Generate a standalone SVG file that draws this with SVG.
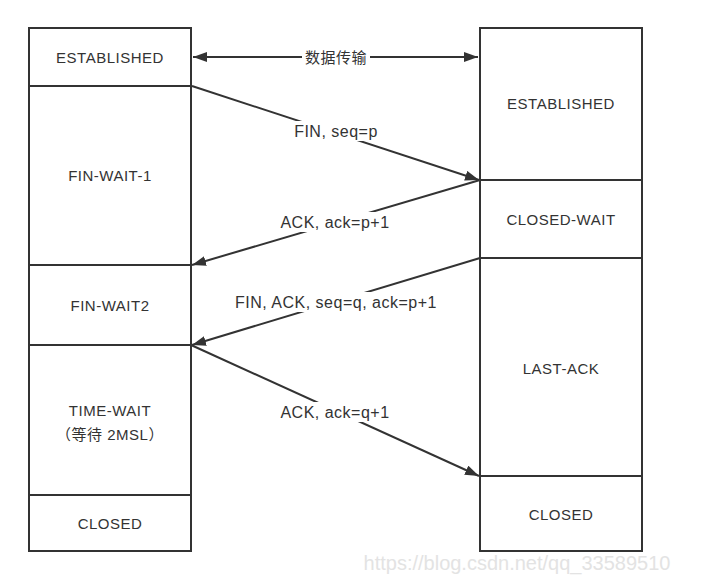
<svg xmlns="http://www.w3.org/2000/svg" width="708" height="582" viewBox="0 0 708 582">
<defs>
<style>
.box{fill:#fff;stroke:#333;stroke-width:2}
.t{font-family:"Liberation Sans","Noto Sans CJK SC",sans-serif;font-size:15px;fill:#333;text-anchor:middle;dominant-baseline:central;letter-spacing:0.5px}
.lb{font-size:16px}
.ln{stroke:#333;stroke-width:2;fill:none}
.bg{fill:#fff}
.wm{font-family:"Liberation Sans",sans-serif;font-size:20px;fill:#e3e3e3;text-anchor:middle;dominant-baseline:central}
</style>
<marker id="ah" viewBox="0 0 14 10" refX="14" refY="5" markerWidth="14" markerHeight="10" markerUnits="userSpaceOnUse" orient="auto-start-reverse">
<path d="M0,0 L14,5 L0,10 Z" fill="#333"/>
</marker>
</defs>
<rect width="708" height="582" fill="#fff"/>
<g id="client">
<g id="c-established"><rect class="box" x="29" y="28" width="162" height="58"/><text class="t" x="110" y="57">ESTABLISHED</text></g>
<g id="c-finwait1"><rect class="box" x="29" y="86" width="162" height="179"/><text class="t" x="110" y="175">FIN-WAIT-1</text></g>
<g id="c-finwait2"><rect class="box" x="29" y="265" width="162" height="80"/><text class="t" x="110" y="305">FIN-WAIT2</text></g>
<g id="c-timewait"><rect class="box" x="29" y="345" width="162" height="150"/><text class="t" x="110" y="410">TIME-WAIT</text><text class="t" x="110" y="434">（等待 2MSL）</text></g>
<g id="c-closed"><rect class="box" x="29" y="495" width="162" height="56"/><text class="t" x="110" y="523">CLOSED</text></g>
</g>
<g id="server">
<g id="s-established"><rect class="box" x="480" y="28" width="162" height="152"/><text class="t" x="561" y="103">ESTABLISHED</text></g>
<g id="s-closedwait"><rect class="box" x="480" y="180" width="162" height="78"/><text class="t" x="561" y="219">CLOSED-WAIT</text></g>
<g id="s-lastack"><rect class="box" x="480" y="258" width="162" height="218"/><text class="t" x="561" y="368">LAST-ACK</text></g>
<g id="s-closed"><rect class="box" x="480" y="476" width="162" height="75"/><text class="t" x="561" y="514">CLOSED</text></g>
</g>
<g id="connectors">
<line class="ln" x1="193" y1="57" x2="478" y2="57" marker-start="url(#ah)" marker-end="url(#ah)"/>
<rect class="bg" x="302" y="48" width="68" height="18"/>
<text class="t" x="336" y="57">数据传输</text>
<line class="ln" x1="192" y1="86" x2="479" y2="180" marker-end="url(#ah)"/>
<rect class="bg" x="290" y="121" width="92" height="20"/>
<text class="t lb" x="336" y="131">FIN, seq=p</text>
<line class="ln" x1="480" y1="180" x2="192" y2="265" marker-end="url(#ah)"/>
<rect class="bg" x="277" y="212" width="116" height="20"/>
<text class="t lb" x="335" y="222">ACK, ack=p+1</text>
<line class="ln" x1="480" y1="258" x2="192" y2="345" marker-end="url(#ah)"/>
<rect class="bg" x="231" y="292" width="210" height="20"/>
<text class="t lb" x="336" y="302">FIN, ACK, seq=q, ack=p+1</text>
<line class="ln" x1="191" y1="345" x2="479" y2="476" marker-end="url(#ah)"/>
<rect class="bg" x="277" y="402" width="116" height="20"/>
<text class="t lb" x="335" y="412">ACK, ack=q+1</text>
</g>
<text class="wm" x="517" y="563">https://blog.csdn.net/qq_33589510</text>
</svg>
